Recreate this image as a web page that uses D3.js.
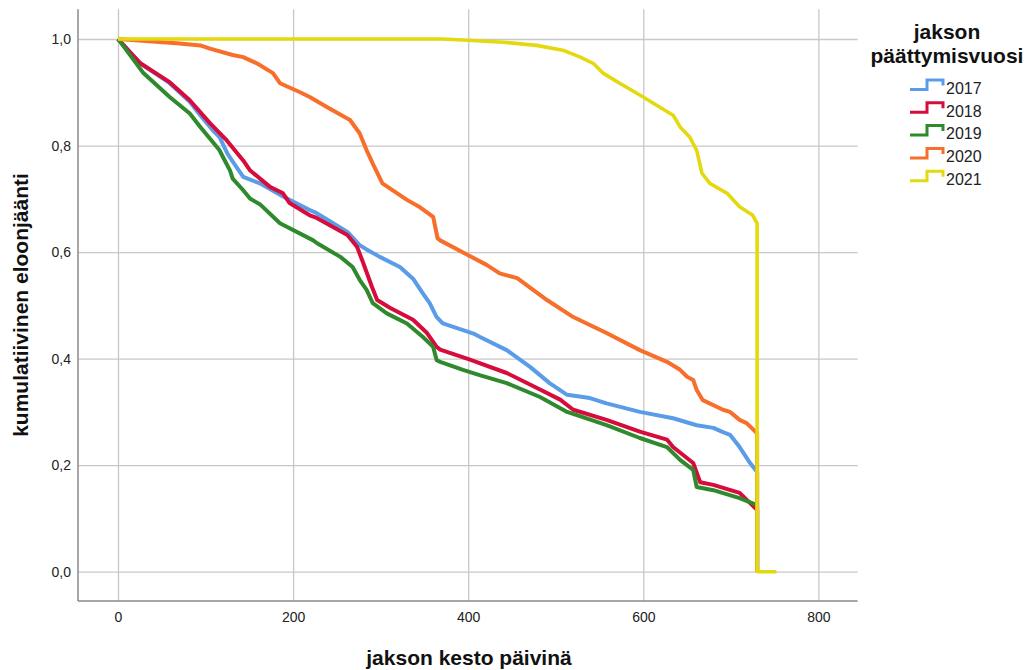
<!DOCTYPE html>
<html>
<head>
<meta charset="utf-8">
<script src="https://cdn.jsdelivr.net/npm/d3@7"></script>
<style>
  html, body { margin: 0; padding: 0; background: #fff; }
  svg { display: block; font-family: "Liberation Sans", Arial, sans-serif; }
</style>
</head>
<body>
<svg id="chart" width="1029" height="670"></svg>
<script>
// ---- data (days, cumulative survival) ----
const years = ["2017", "2018", "2019", "2020", "2021"];
const colors = ["#5b9ce9", "#d60c3c", "#2e8a2c", "#f76f2b", "#e4d90e"];

const s2017 = [[0,1.0],[25,0.955],[59,0.917],[82,0.882],[94,0.857],[108,0.829],[116,0.816],[125,0.785],[131,0.770],[143,0.741],[162,0.729],[188,0.705],[196,0.698],[219,0.679],[227,0.673],[262,0.638],[276,0.613],[284,0.605],[299,0.591],[322,0.572],[337,0.550],[348,0.523],[356,0.504],[364,0.478],[371,0.466],[406,0.447],[413,0.441],[444,0.416],[471,0.384],[493,0.354],[513,0.332],[539,0.326],[558,0.316],[596,0.300],[634,0.288],[661,0.275],[680,0.270],[691,0.262],[699,0.257],[710,0.234],[722,0.204],[730,0.187],[730,0]];
const s2018 = [[0,1.0],[25,0.955],[59,0.919],[82,0.885],[105,0.842],[124,0.810],[143,0.772],[151,0.753],[174,0.722],[188,0.711],[196,0.692],[219,0.669],[227,0.664],[262,0.632],[273,0.610],[280,0.580],[290,0.535],[296,0.510],[311,0.495],[337,0.473],[353,0.448],[364,0.422],[368,0.417],[402,0.398],[444,0.373],[482,0.342],[505,0.323],[520,0.304],[558,0.285],[596,0.263],[627,0.248],[634,0.234],[657,0.204],[665,0.168],[680,0.163],[710,0.148],[730,0.116],[730,0]];
const s2019 = [[0,1.0],[2,0.996],[29,0.936],[59,0.891],[82,0.860],[94,0.835],[116,0.791],[120,0.778],[128,0.753],[131,0.738],[143,0.716],[151,0.700],[162,0.690],[185,0.654],[223,0.622],[227,0.617],[254,0.591],[268,0.572],[276,0.548],[284,0.529],[291,0.504],[307,0.485],[330,0.466],[348,0.441],[360,0.422],[364,0.397],[368,0.394],[394,0.379],[413,0.369],[444,0.354],[482,0.328],[513,0.300],[558,0.275],[596,0.251],[627,0.234],[642,0.210],[657,0.191],[661,0.159],[680,0.153],[710,0.138],[730,0.125],[730,0]];
const s2020 = [[0,1.0],[67,0.992],[94,0.988],[105,0.982],[131,0.970],[143,0.966],[159,0.954],[177,0.936],[185,0.917],[208,0.900],[219,0.891],[239,0.872],[265,0.848],[276,0.823],[284,0.791],[291,0.766],[302,0.729],[330,0.698],[345,0.684],[360,0.666],[365,0.626],[368,0.622],[399,0.595],[421,0.576],[436,0.560],[456,0.551],[490,0.510],[520,0.478],[558,0.448],[596,0.416],[627,0.394],[642,0.379],[650,0.366],[657,0.360],[661,0.341],[668,0.322],[691,0.304],[699,0.300],[710,0.285],[718,0.279],[730,0.260],[730,0]];
const s2021 = [[0,1.0],[370,1.0],[394,0.998],[440,0.994],[478,0.988],[508,0.979],[528,0.966],[543,0.954],[554,0.936],[573,0.917],[596,0.895],[619,0.872],[634,0.857],[642,0.835],[653,0.816],[661,0.791],[667,0.748],[676,0.729],[696,0.710],[710,0.685],[725,0.669],[730,0.654],[730,0],[752,0]];
const seriesData = [s2017, s2018, s2019, s2020, s2021];

const xTicks = [0, 200, 400, 600, 800];
const yTicks = [0, 0.2, 0.4, 0.6, 0.8, 1.0];
const yTickLabels = ["0,0", "0,2", "0,4", "0,6", "0,8", "1,0"];

const xTitle = "jakson kesto päivinä";
const yTitle = "kumulatiivinen eloonjäänti";
const legendTitle = ["jakson", "päättymisvuosi"];

// ---- layout ----
const svg = d3.select("#chart");
const L = 78, R = 857.7, T = 9.3, B = 601;
const x = d3.scaleLinear().domain([0, 800]).range([118, 818.4]);
const y = d3.scaleLinear().domain([0, 1]).range([571.7, 39]);

// grid + x labels
const gx = svg.append("g").attr("transform", `translate(0,${B})`)
  .call(d3.axisBottom(x).tickValues(xTicks).tickSize(-(B - T)).tickPadding(11));
gx.select(".domain").remove();
gx.selectAll(".tick line").attr("stroke", "#c8c8c8").attr("stroke-width", 1.3);
gx.selectAll(".tick text").attr("fill", "#222").style("font-size", "14px")
  .style("font-family", '"Liberation Sans", Arial, sans-serif');

const gy = svg.append("g").attr("transform", `translate(${L},0)`)
  .call(d3.axisLeft(y).tickValues(yTicks).tickSize(-(R - L)).tickPadding(7)
    .tickFormat((d, i) => yTickLabels[i]));
gy.select(".domain").remove();
gy.selectAll(".tick line").attr("stroke", "#c8c8c8").attr("stroke-width", 1.3);
gy.selectAll(".tick text").attr("fill", "#222").style("font-size", "14px")
  .style("font-family", '"Liberation Sans", Arial, sans-serif');

// axis lines
svg.append("line").attr("x1", L).attr("x2", L).attr("y1", T).attr("y2", B)
  .attr("stroke", "#8a8a8a").attr("stroke-width", 1.5);
svg.append("line").attr("x1", L).attr("x2", R).attr("y1", B).attr("y2", B)
  .attr("stroke", "#8a8a8a").attr("stroke-width", 1.5);

// curves
const line = d3.line().x(d => x(d[0])).y(d => y(d[1])).curve(d3.curveLinear);
seriesData.forEach((s, i) => {
  svg.append("path").datum(s).attr("d", line)
    .attr("fill", "none").attr("stroke", colors[i])
    .attr("stroke-width", i === 4 ? 3.6 : 4).attr("stroke-linejoin", "round");
});

// axis titles
svg.append("text").attr("x", 469).attr("y", 665).attr("text-anchor", "middle")
  .style("font-size", "21px").style("font-weight", "bold").attr("fill", "#111").text(xTitle);
svg.append("text").attr("transform", "translate(28,305) rotate(-90)").attr("text-anchor", "middle")
  .style("font-size", "21px").style("font-weight", "bold").attr("fill", "#111").text(yTitle);

// legend
legendTitle.forEach((t, i) => {
  svg.append("text").attr("x", 947).attr("y", 39 + i * 24).attr("text-anchor", "middle")
    .style("font-size", "21px").style("font-weight", "bold").attr("fill", "#111").text(t);
});
years.forEach((yr, i) => {
  const cy = 88 + i * 22.8;
  svg.append("path")
    .attr("d", `M910,${cy + 1.5}H927V${cy - 8}H943V${cy - 2.5}`)
    .attr("fill", "none").attr("stroke", colors[i]).attr("stroke-width", 3);
  svg.append("text").attr("x", 946).attr("y", cy).attr("dy", "0.36em")
    .style("font-size", "16px").attr("fill", "#222").text(yr);
});
</script>
</body>
</html>
